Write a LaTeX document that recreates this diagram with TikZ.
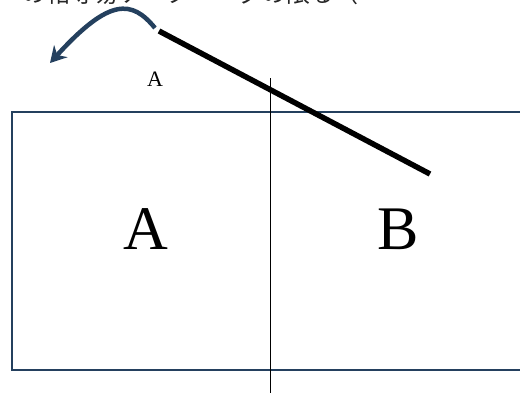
\documentclass[tikz,border=0pt]{standalone}
\usepackage{fontspec}
\setmainfont{Liberation Serif}
\newfontfamily\cjk{Noto Sans CJK JP}
\usetikzlibrary{arrows.meta}
\definecolor{navy}{RGB}{36,64,94}
\tikzset{
  frame/.style={draw=navy, line width=2pt},
  divider/.style={draw=black, line width=1pt},
  bar/.style={draw=black, line width=5.5pt},
  curvearrow/.style={draw=navy, line width=4.5pt, -{Stealth[length=16pt,width=18pt]}},
  biglabel/.style={font=\fontsize{62}{62}\selectfont, inner sep=0pt},
  smalllabel/.style={font=\fontsize{22}{22}\selectfont, inner sep=0pt}
}
\begin{document}
\begin{tikzpicture}[x=1pt,y=-1pt]
\useasboundingbox (0,0) rectangle (520,392);
\begin{scope}
\clip (0,0) rectangle (520,392);
\node[anchor=base west, font=\cjk\fontsize{24}{24}\selectfont, inner sep=0pt, text=black!85] (title) at (22,2) {の帖寺易ケーターーグの限る（};
\draw[frame] (12,112) rectangle (540,370);
\coordinate (dtop) at (270,78);
\coordinate (dbot) at (270,400);
\draw[divider] (dtop) -- (dbot);
\coordinate (barA) at (159,31);
\coordinate (barB) at (430,174);
\draw[bar] (barA) -- (barB);
\coordinate (arrS) at (155,28);
\coordinate (arrE) at (50,63);
\draw[curvearrow] (arrS) .. controls (132,0) and (110,-3) .. (arrE);
\node[smalllabel] (la) at (155,79) {A};
\node[biglabel] (A) at (146,229) {A};
\node[biglabel] (B) at (398,229) {B};
\end{scope}
\end{tikzpicture}
\end{document}
